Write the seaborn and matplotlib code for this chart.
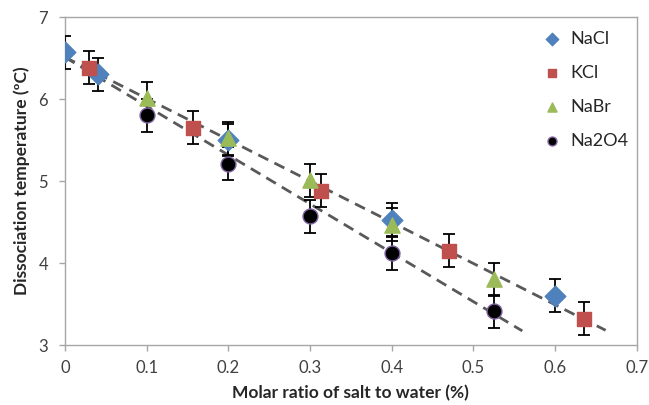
import numpy as np
import pandas as pd
import matplotlib
matplotlib.use('Agg')
import matplotlib.pyplot as plt
import seaborn as sns

# ---------------- data ----------------
salts = ['NaCl', 'KCl', 'NaBr', 'Na2O4']

nacl_x = [0.0, 0.04, 0.2, 0.4, 0.6]
nacl_y = [6.57, 6.30, 5.50, 4.53, 3.60]

kcl_x = [0.03, 0.157, 0.313, 0.47, 0.635]
kcl_y = [6.38, 5.65, 4.88, 4.15, 3.32]

nabr_x = [0.1, 0.2, 0.3, 0.4, 0.525]
nabr_y = [6.01, 5.52, 5.01, 4.47, 3.80]

na2o4_x = [0.1, 0.2, 0.3, 0.4, 0.525]
na2o4_y = [5.80, 5.21, 4.57, 4.12, 3.41]

err = 0.2  # error bar half-width (degC)

# dashed trend lines: (intercept, slope, x end)
trend_upper = (6.51, -5.03, 0.662)
trend_lower = (6.51, -5.96, 0.56)

xticks = [0, 0.1, 0.2, 0.3, 0.4, 0.5, 0.6, 0.7]
xtick_labels = ['0', '0.1', '0.2', '0.3', '0.4', '0.5', '0.6', '0.7']
yticks = [3, 4, 5, 6, 7]

# ---------------- styling ----------------
colors = {'NaCl': '#4F81BD', 'KCl': '#C0504D', 'NaBr': '#9BBB59', 'Na2O4': '#000000'}
edges = {'NaCl': '#4F81BD', 'KCl': '#C0504D', 'NaBr': '#9BBB59', 'Na2O4': '#8064A2'}
markers = {'NaCl': 'D', 'KCl': 's', 'NaBr': '^', 'Na2O4': 'o'}
sizes = {'NaCl': 110, 'KCl': 110, 'NaBr': 120, 'Na2O4': 115}

sns.set_style('white')
plt.rcParams['font.family'] = ['Lato', 'DejaVu Sans']

rows = []
for name, xs, ys in zip(salts, [nacl_x, kcl_x, nabr_x, na2o4_x], [nacl_y, kcl_y, nabr_y, na2o4_y]):
    for x, y in zip(xs, ys):
        rows.append({'salt': name, 'x': x, 'y': y})
df = pd.DataFrame(rows)

fig, ax = plt.subplots(figsize=(6.49, 4.05), dpi=100)
fig.subplots_adjust(left=0.100, right=0.981, top=0.958, bottom=0.148)

# trend lines
for b, m, xend in [trend_upper, trend_lower]:
    xs = np.array([0.0, xend])
    ax.plot(xs, b + m * xs, color='#595959', linestyle=(0, (4, 2.5)), linewidth=2, zorder=2)

for name in salts:
    sub = df[df['salt'] == name]
    ax.errorbar(sub['x'], sub['y'], yerr=err, fmt='none', ecolor='black',
                elinewidth=1.3, capsize=4, capthick=1.3, zorder=3)
    sns.scatterplot(data=sub, x='x', y='y', marker=markers[name], s=sizes[name],
                    color=colors[name], edgecolor=edges[name], linewidth=1.0,
                    ax=ax, zorder=4, label=name)

ax.set_xlim(0, 0.7)
ax.set_ylim(3, 7)
ax.set_xticks(xticks)
ax.set_xticklabels(xtick_labels)
ax.set_yticks(yticks)
ax.tick_params(axis='both', direction='out', length=4, width=1, color='#a6a6a6',
               labelsize=12, labelcolor='#404040', bottom=True, left=True)
ax.tick_params(axis='x', pad=7)
ax.tick_params(axis='y', pad=8)
for sp in ax.spines.values():
    sp.set_color('#a6a6a6')
    sp.set_linewidth(1)

ax.set_xlabel('Molar ratio of salt to water (%)', fontsize=12.5, fontweight='bold', labelpad=6)
ax.set_ylabel('Dissociation temperature (ºC)', fontsize=12.5, fontweight='bold', labelpad=6)

leg = ax.legend(loc='upper right', bbox_to_anchor=(1.014, 1.008), frameon=False,
                fontsize=13, labelspacing=1.0, handletextpad=0.0, markerscale=0.6)

plt.savefig('out.png', dpi=100)
